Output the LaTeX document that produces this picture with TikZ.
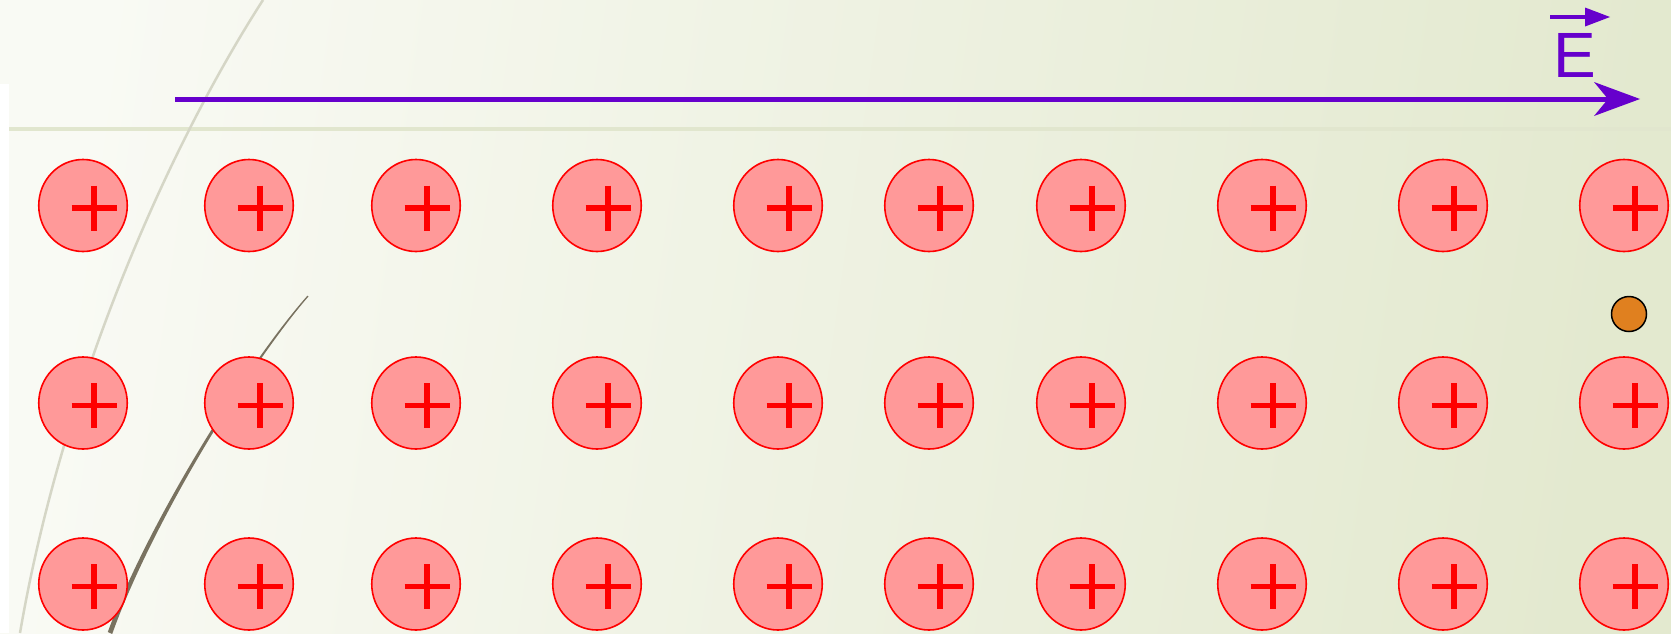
\documentclass[tikz,border=0pt]{standalone}
\usepackage{fontspec}
\newfontfamily\efont{Liberation Sans}
\usetikzlibrary{shapes.geometric,arrows.meta}
\definecolor{bgA}{HTML}{F9FAF4}
\definecolor{bgB}{HTML}{E3E9CF}
\definecolor{field}{HTML}{6600CC}
\definecolor{ionfill}{HTML}{FF9999}
\definecolor{chargecol}{HTML}{E0801F}
\definecolor{lightcurve}{HTML}{D5D6C6}
\definecolor{darkcurve}{HTML}{797260}
\definecolor{guide}{HTML}{E1E6CE}
\begin{document}
\begin{tikzpicture}[x=1pt,y=-1pt,
  ion/.style={ellipse, draw=red, fill=ionfill, line width=1.6pt,
    minimum width=88.5pt, minimum height=92pt, inner sep=0pt},
  plusbar/.style={red, line width=5.5pt},
  fieldline/.style={field, line width=5pt,
    -{Stealth[length=46pt,width=34pt,inset=14pt,line width=0pt]}},
  vecarrow/.style={field, line width=4pt,
    -{Triangle[length=25pt,width=19pt,line width=0pt]}},
  chargestyle/.style={circle, draw=black, fill=chargecol, line width=1.5pt,
    minimum size=35pt, inner sep=0pt},
  lightpath/.style={lightcurve, line width=2.5pt},
  darkpath/.style={fill=darkcurve, draw=none}
]
\useasboundingbox (0,0) rectangle (1671,633);
\clip (0,0) rectangle (1671,633);
% background
\shade[top color=bgA, bottom color=bgB, shading angle=82] (0,0) rectangle (1671,633);
\fill[white] (0,84) rectangle (9,633);
\draw[guide, line width=4pt] (9,129) -- (1671,129);
% curves
\draw[lightpath] (263,0) .. controls (160,160) and (60,400) .. (20,633);
\fill[darkpath] (308.6,296.3) .. controls (251,362.5) and (151.6,523) .. (112.2,634)
  -- (107.8,632) .. controls (148.4,521) and (249,361.5) .. (307.4,295.7) -- cycle;
% field arrow
\coordinate (fieldStart) at (175,99);
\coordinate (fieldEnd) at (1640,99);
\draw[fieldline] (fieldStart) -- (fieldEnd);
% E label
\coordinate (vecL) at (1550,17);
\coordinate (vecR) at (1610,17);
\draw[vecarrow] (vecL) -- (vecR);
\node[text=field, font=\efont\fontsize{64}{64}\selectfont, anchor=base, inner sep=0pt] (Elabel) at (1575,77.7) {E};
% ions
\foreach \x [count=\i] in {83,249,416,597,778,929,1081,1262,1443,1624}{
  \foreach \y [count=\j] in {205.5,403,584}{
    \node[ion] (c-\j-\i) at (\x,\y) {};
    \draw[plusbar] (\x-11.5,\y+2.7) -- (\x+33.5,\y+2.7);
    \draw[plusbar] (\x+11,\y-19.8) -- (\x+11,\y+25.2);
  }
}
% charge
\node[chargestyle] (charge) at (1629,314) {};
\end{tikzpicture}
\end{document}
